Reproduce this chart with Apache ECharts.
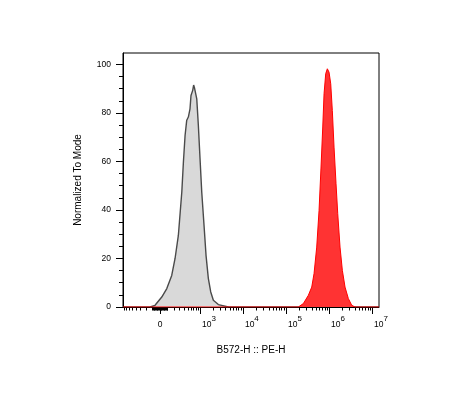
<!DOCTYPE html>
<html>
<head>
<meta charset="utf-8">
<script src="https://cdn.jsdelivr.net/npm/echarts@6/dist/echarts.min.js"></script>
<style>
html,body{margin:0;padding:0;background:#fff;}
#chart{width:471px;height:402px;}
</style>
</head>
<body>
<div id="chart"></div>
<script>
// ---- data (raw fluorescence values, normalized-to-mode counts) ----
var xRange = [-850, 14500000];
var xMajorTicks = [0, 1e3, 1e4, 1e5, 1e6, 1e7];
var xTickLabels = ['0', '10^3', '10^4', '10^5', '10^6', '10^7'];
var xMinorTicks = [-800,-700,-600,-500,-400,-300,-200,-100,-90,-80,-70,-60,-50,-40,-30,-20,-10,
  10,20,30,40,50,60,70,80,90,100,200,300,400,500,600,700,800,900,
  2e3,3e3,4e3,5e3,6e3,7e3,8e3,9e3,2e4,3e4,4e4,5e4,6e4,7e4,8e4,9e4,
  2e5,3e5,4e5,5e5,6e5,7e5,8e5,9e5,2e6,3e6,4e6,5e6,6e6,7e6,8e6,9e6];
var yMajorTicks = [0, 20, 40, 60, 80, 100];
var yMinorTicks = [5,10,15,25,30,35,45,50,55,65,70,75,85,90,95];

var grayX = [-134,-65,22,88,159,213,273,345,382,424,469,516,545,569,602,664,700,730,757,834,911,1000,1097,1243,1386,1573,1788,2058,2693,4605];
var grayY = [0,0.7,4.1,7.6,13,20,29.5,47.4,59.7,70.7,77,78.3,79,81.7,87.2,89.3,91.5,90.5,90,85.8,74.8,61,47.4,33.7,21.3,11.7,6.2,2.8,1,0];

var redX = [-850,194300,253700,331400,397600,450100,519200,587900,653800,716800,768000,840200,915400,1003000,1098000,1195000,1310000,1457000,1596000,1805000,2043000,2357000,2814000,3376000,4021000,14500000];
var redY = [0,0,1.4,4.8,8.2,13.8,24.7,39.8,57.7,74.2,87.9,96.2,98.2,96.8,92,81,65.9,50.8,38.5,24.7,15.1,8.2,3.5,0.7,0,0];

// ---- biexponential (arcsinh) display transform ----
var W = 239;
function biex(v){ return Math.asinh(v / W) / Math.LN10; }
function pairs(xs, ys){ return xs.map(function(x,i){ return [biex(x), ys[i]]; }); }

var FONT = 'Liberation Sans, Arial, sans-serif';
var xMajT = xMajorTicks.map(biex);

function xLabel(val){
  var best = 0, bd = Infinity;
  xMajT.forEach(function(t,i){ var d = Math.abs(t - val); if (d < bd){ bd = d; best = i; } });
  var s = xTickLabels[best];
  if (s.indexOf('^') < 0) return '{z|' + s + '}';
  var p = s.split('^');
  return '{b|' + p[0] + '}{s|' + p[1] + '}';
}

var chart = echarts.init(document.getElementById('chart'));
var xCommon = {
  type: 'value', min: biex(xRange[0]), max: biex(xRange[1]),
  splitLine: {show: false}
};
chart.setOption({
  animation: false,
  backgroundColor: '#fff',
  grid: {left: 123, top: 53, right: 92, bottom: 95, show: true, borderColor: '#000', borderWidth: 1, backgroundColor: 'transparent'},
  xAxis: [
    Object.assign({}, xCommon, {
      position: 'bottom',
      name: 'B572-H :: PE-H', nameLocation: 'middle', nameGap: 38,
      nameTextStyle: {fontFamily: FONT, fontSize: 10, color: '#000'},
      axisLine: {show: true, onZero: false, lineStyle: {color: '#000', width: 1}},
      axisTick: {show: true, length: 7, customValues: xMajT, lineStyle: {color: '#000', width: 1}},
      axisLabel: {
        show: true, margin: 8, customValues: xMajT, formatter: xLabel,
        rich: {
          z: {fontFamily: FONT, fontSize: 8.5, lineHeight: 19, color: '#000'},
          b: {fontFamily: FONT, fontSize: 8.5, lineHeight: 19, color: '#000', padding: [0,0,0,18]},
          s: {fontFamily: FONT, fontSize: 8, lineHeight: 10, color: '#000', verticalAlign: 'top'}
        }
      }
    }),
    Object.assign({}, xCommon, {
      position: 'bottom',
      axisLine: {show: false, onZero: false},
      axisTick: {show: true, length: 3.5, customValues: xMinorTicks.map(biex), lineStyle: {color: '#000', width: 1}},
      axisLabel: {show: false}
    })
  ],
  yAxis: [
    {
      type: 'value', min: 0, max: 104.7, position: 'left',
      name: 'Normalized To Mode', nameLocation: 'middle', nameGap: 40,
      nameTextStyle: {fontFamily: FONT, fontSize: 10, color: '#000'},
      splitLine: {show: false},
      axisLine: {show: true, onZero: false, lineStyle: {color: '#000', width: 1}},
      axisTick: {show: true, length: 7, customValues: yMajorTicks, lineStyle: {color: '#000', width: 1}},
      axisLabel: {show: true, margin: 12, customValues: yMajorTicks, fontFamily: FONT, fontSize: 8.5, color: '#000'}
    },
    {
      type: 'value', min: 0, max: 104.7, position: 'left',
      splitLine: {show: false},
      axisLine: {show: false, onZero: false},
      axisTick: {show: true, length: 4, customValues: yMinorTicks, lineStyle: {color: '#000', width: 1}},
      axisLabel: {show: false}
    }
  ],
  series: [
    {
      type: 'line', xAxisIndex: 0, yAxisIndex: 0, showSymbol: false, symbol: 'none',
      data: pairs(grayX, grayY),
      lineStyle: {color: '#4a4a4a', width: 1.4},
      areaStyle: {color: '#d9d9d9', opacity: 1},
      z: 2
    },
    {
      type: 'line', xAxisIndex: 0, yAxisIndex: 0, showSymbol: false, symbol: 'none',
      data: pairs(redX, redY),
      lineStyle: {color: '#ff0000', width: 1},
      areaStyle: {color: '#ff3333', opacity: 1},
      z: 3
    }
  ]
});
</script>
</body>
</html>
